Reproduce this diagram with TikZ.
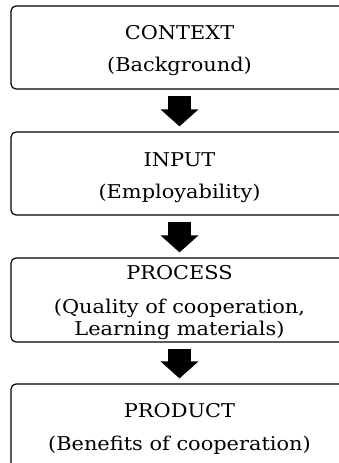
\documentclass[tikz,border=0pt]{standalone}
\usepackage{fontspec}
\setmainfont[FakeStretch=1.1]{DejaVu Serif}
\usetikzlibrary{arrows.meta}
\tikzset{
    caja/.style={draw,line width=1.2pt,rounded corners=5pt,
        minimum width=337pt,minimum height=84pt,align=center,
        inner sep=0pt,font=\fontsize{19}{22}\selectfont},
    flecha/.style={line width=23pt,
        -{Triangle[length=17pt,width=37pt]},
        shorten <=6pt,shorten >=5pt}
}
% puntales para fijar la altura del texto
\newcommand{\arriba}{\rule{0pt}{20pt}}
\newcommand{\abajo}[1]{\rule[-#1]{0pt}{#1}}
\begin{document}
\begin{tikzpicture}[x=1pt,y=-1pt]
    \useasboundingbox (0,0) rectangle (339,463);

    % Cajas
    \node[caja,minimum height=83pt] (ctx) at (179.5,47.5)
        {\arriba CONTEXT\\[10pt](Background)\abajo{5pt}};
    \node[caja,minimum height=83pt] (inp) at (179.5,173.5)
        {\rule{0pt}{24pt}INPUT\\[10pt](Employability)\abajo{7pt}};
    \node[caja] (prc) at (179.5,300)
        {\arriba PROCESS\\[12pt](Quality of cooperation,\\Learning materials)\abajo{6pt}};
    \node[caja] (prd) at (179.5,426)
        {\arriba PRODUCT\\[11pt](Benefits of cooperation)\abajo{5pt}};

    % Flechas
    \foreach \a/\b in {ctx/inp,inp/prc,prc/prd} {
        \draw[flecha] (\a.south) -- (\b.north);
    }
\end{tikzpicture}
\end{document}
